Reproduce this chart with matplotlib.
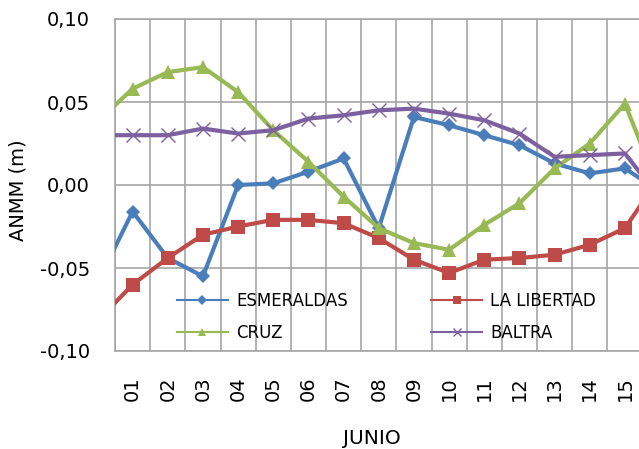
import numpy as np
import matplotlib
matplotlib.use('Agg')
import matplotlib.pyplot as plt
from matplotlib.lines import Line2D

# days: 0 = 31 May (cut off), 1..15 = June, 16 = cut off on the right
days = np.arange(0, 17)
tick_days = np.arange(1, 16)
tick_labels = ['%02d' % d for d in tick_days]

esmeraldas = [-0.059, -0.016, -0.044, -0.055, 0.000, 0.001, 0.008, 0.016, -0.026,
              0.041, 0.036, 0.030, 0.024, 0.013, 0.007, 0.010, -0.004]
la_libertad = [-0.082, -0.060, -0.044, -0.030, -0.025, -0.021, -0.021, -0.023, -0.032,
               -0.045, -0.053, -0.045, -0.044, -0.042, -0.036, -0.026, 0.005]
cruz = [0.038, 0.058, 0.068, 0.071, 0.056, 0.033, 0.014, -0.007, -0.026,
        -0.035, -0.039, -0.024, -0.011, 0.010, 0.025, 0.049, -0.004]
baltra = [0.030, 0.030, 0.030, 0.034, 0.031, 0.033, 0.040, 0.042, 0.045,
          0.046, 0.043, 0.039, 0.031, 0.017, 0.018, 0.019, -0.008]

names = ['ESMERALDAS', 'LA LIBERTAD', 'CRUZ', 'BALTRA']
colors = ['#4A7EBB', '#BE4B48', '#98B954', '#7D60A0']
markers = ['D', 's', '^', 'x']
msizes = [7.5, 10, 10, 10]

fig = plt.figure(figsize=(6.39, 4.49), dpi=100)
# the plot area runs past the right edge of the picture
ax = fig.add_axes([115 / 639, 1 - 351 / 449, 1 - 115 / 639, (351 - 19) / 449])

series = [esmeraldas, la_libertad, cruz, baltra]
for i, vals in enumerate(series):
    ax.plot(days, vals, color=colors[i], lw=3, marker=markers[i], ms=msizes[i],
            mew=1 if markers[i] == 'x' else 0, mec=colors[i], zorder=3 + i)

ax.set_yticks([-0.10, -0.05, 0.0, 0.05, 0.10])
ax.set_yticklabels(['-0,10', '-0,05', '0,00', '0,05', '0,10'], fontsize=14)
ax.set_xticks(tick_days)
ax.set_xticklabels(tick_labels, rotation=90, fontsize=14)
ax.set_xticks(np.arange(0.5, 16, 1), minor=True)
ax.set_xlim(0.5, 15.4)
ax.set_ylim(-0.10, 0.10)
ax.tick_params(which='both', length=0)
ax.tick_params(axis='x', pad=18)
ax.tick_params(axis='y', pad=18)
ax.grid(False)
ax.xaxis.grid(True, which='minor', color='#A6A6A6', lw=1.2)
ax.yaxis.grid(True, which='major', color='#A6A6A6', lw=1.2)
ax.set_axisbelow(True)
for s in ['left', 'bottom', 'top']:
    ax.spines[s].set_color('#A6A6A6')
    ax.spines[s].set_linewidth(1.2)
ax.spines['right'].set_visible(False)

handles = []
for i in range(4):
    handles.append(Line2D([], [], color=colors[i], lw=1.5, marker=markers[i],
                          ms=6 if markers[i] != 'D' else 5, mew=1 if markers[i] == 'x' else 0))
# legend fills column by column: put the entries so rows read ESMERALDAS / LA LIBERTAD, CRUZ / BALTRA
order = [0, 2, 1, 3]
leg = ax.legend([handles[k] for k in order], [names[k] for k in order], ncol=2,
                frameon=False, fontsize=12,
                loc='upper left', bbox_to_anchor=(177 / 639, 1 - 292 / 449),
                bbox_transform=fig.transFigure, borderpad=0, borderaxespad=0,
                handlelength=3.05, handletextpad=0.5, columnspacing=5.0,
                labelspacing=0.85)

fig.text(18 / 639, 1 - 190 / 449, 'ANMM (m)', rotation=90, ha='center', va='center', fontsize=14)
fig.text(372 / 639, 1 - 438 / 449, 'JUNIO', ha='center', va='center', fontsize=14.5)

fig.savefig('out.png', dpi=100)
